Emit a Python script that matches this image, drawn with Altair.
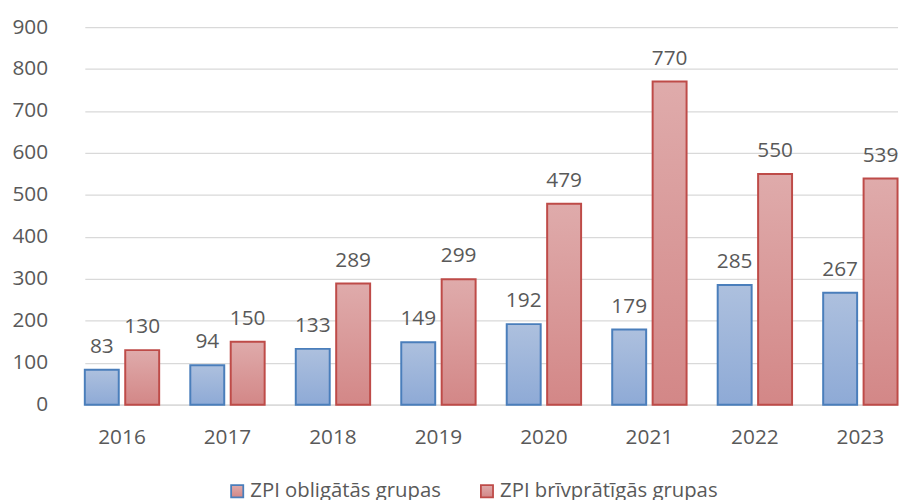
import altair as alt
import pandas as pd

years = ["2016", "2017", "2018", "2019", "2020", "2021", "2022", "2023"]
series_names = ["ZPI obligātās grupas", "ZPI brīvprātīgās grupas"]
obligatas = [83, 94, 133, 149, 192, 179, 285, 267]
brivpratigas = [130, 150, 289, 299, 479, 770, 550, 539]

rows = []
for i, y in enumerate(years):
    rows.append({"year": y, "series": series_names[0], "value": obligatas[i]})
    rows.append({"year": y, "series": series_names[1], "value": brivpratigas[i]})
df = pd.DataFrame(rows)

FONT = "Open Sans"
TXT = "#595959"

blue_grad = alt.Gradient(
    gradient="linear", x1=0, x2=0, y1=0, y2=1,
    stops=[alt.GradientStop(color="#adc0de", offset=0),
           alt.GradientStop(color="#8eaad6", offset=1)],
)
red_grad = alt.Gradient(
    gradient="linear", x1=0, x2=0, y1=0, y2=1,
    stops=[alt.GradientStop(color="#dfabab", offset=0),
           alt.GradientStop(color="#d38787", offset=1)],
)

x_enc = alt.X("year:N", sort=years, title=None,
              scale=alt.Scale(range=[15.5, 835.5], paddingInner=0.295, paddingOuter=0),
              axis=alt.Axis(labelAngle=0, ticks=False, domainColor="#d9d9d9",
                            domainWidth=1.3, labelPadding=22, labelFontSize=21,
                            labelColor=TXT, labelFont=FONT))
xoff_enc = alt.XOffset("series:N", sort=series_names,
                       scale=alt.Scale(domain=series_names, paddingInner=0.16, paddingOuter=0))
y_enc = alt.Y("value:Q", title=None,
              scale=alt.Scale(domain=[0, 900], nice=False),
              axis=alt.Axis(values=list(range(0, 901, 100)), grid=True, gridColor="#d9d9d9",
                            gridWidth=1.3, domain=False, ticks=False, labelPadding=22,
                            labelFontSize=21, labelColor=TXT, labelFont=FONT))

is_blue = alt.datum.series == series_names[0]

bars = alt.Chart(df).mark_bar(strokeWidth=2).encode(
    x=x_enc,
    xOffset=xoff_enc,
    y=y_enc,
    fill=alt.condition(is_blue, alt.value(blue_grad), alt.value(red_grad)),
    stroke=alt.Stroke(
        "series:N", sort=series_names, title=None,
        scale=alt.Scale(domain=series_names, range=["#4a7ebb", "#be4b48"]),
        legend=alt.Legend(
            orient="none", legendX=159, legendY=458, direction="horizontal",
            symbolType="square", symbolSize=150, symbolStrokeWidth=1.8,
            labelFontSize=20.5, labelColor=TXT, labelFont=FONT, labelOffset=3,
            labelLimit=0, columnPadding=36,
            symbolFillColor=alt.ExprRef(expr="datum.index === 0 ? '#a9bcdc' : '#dba5a5'"),
        ),
    ),
)

labels = alt.Chart(df).mark_text(
    dy=-17, baseline="alphabetic", fontSize=21, color=TXT, font=FONT
).encode(
    x=alt.X("year:N", sort=years),
    xOffset=alt.XOffset("series:N", sort=series_names),
    y="value:Q",
    text="value:Q",
)

chart = (bars + labels).properties(
    width=840, height=381,
    autosize=alt.AutoSizeParams(type="none"),
    padding={"left": 62, "top": 17, "right": 0, "bottom": 100},
).configure_view(stroke=None)

chart.save("out.html", embed_options={"renderer": "svg", "actions": False})
